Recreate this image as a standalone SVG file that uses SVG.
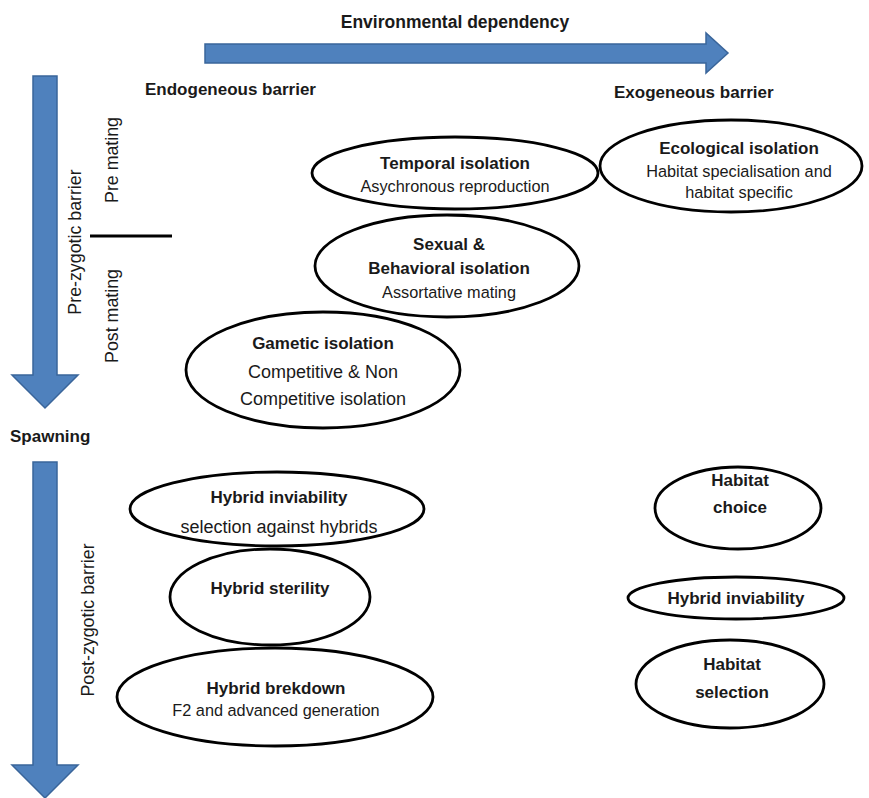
<svg xmlns="http://www.w3.org/2000/svg" width="869" height="798" viewBox="0 0 869 798">
<style>
.arrow{fill:#4f81bd;stroke:#3a659a;stroke-width:1.5}
.node ellipse{fill:#fff;stroke:#000;stroke-width:2.8}
text{font-family:"Liberation Sans",Arial,sans-serif;fill:#1a1a1a}
.b{font-weight:bold;font-size:17px}
.r{font-size:16.3px}
.r2{font-size:18px}
.v{font-size:17.8px}
.t{text-anchor:middle}
</style>
<rect width="869" height="798" fill="#fff"/>
<g id="connectors">
<path class="arrow" d="M205,44 H706 V33 L728,53 L706,73 V63 H205 Z"/>
<path class="arrow" d="M33,76 H57 V375 H78 L45,408 L12,375 H33 Z"/>
<path class="arrow" d="M33,462 H57 V765 H78 L45,798 L12,765 H33 Z"/>
<line x1="90" y1="236" x2="172" y2="236" stroke="#000" stroke-width="3"/>
</g>
<g id="labels">
<text class="b t" x="455" y="28" style="font-size:17.5px">Environmental dependency</text>
<text class="b" x="145" y="95">Endogeneous barrier</text>
<text class="b" x="614" y="98">Exogeneous barrier</text>
<text class="b" x="10" y="442">Spawning</text>
<text class="v t" transform="translate(81,242) rotate(-90)">Pre-zygotic barrier</text>
<text class="v t" transform="translate(118,160) rotate(-90)">Pre mating</text>
<text class="v t" transform="translate(118,316) rotate(-90)">Post mating</text>
<text class="v t" transform="translate(94,620) rotate(-90)">Post-zygotic barrier</text>
</g>
<g id="temporal" class="node">
<ellipse cx="455" cy="173" rx="143" ry="36"/>
<text class="b t" x="455" y="169">Temporal isolation</text>
<text class="r t" x="455" y="192">Asychronous reproduction</text>
</g>
<g id="ecological" class="node">
<ellipse cx="731" cy="166" rx="131" ry="46"/>
<text class="b t" x="739" y="154">Ecological isolation</text>
<text class="r t" x="739" y="177">Habitat specialisation and</text>
<text class="r t" x="739" y="198">habitat specific</text>
</g>
<g id="sexual" class="node">
<ellipse cx="447" cy="266" rx="132" ry="51"/>
<text class="b t" x="449" y="250">Sexual &amp;</text>
<text class="b t" x="449" y="274">Behavioral isolation</text>
<text class="r t" x="449" y="298">Assortative mating</text>
</g>
<g id="gametic" class="node">
<ellipse cx="323" cy="370" rx="137" ry="58"/>
<text class="b t" x="323" y="349">Gametic isolation</text>
<text class="r2 t" x="323" y="378">Competitive &amp; Non</text>
<text class="r2 t" x="323" y="405">Competitive isolation</text>
</g>
<g id="hybrid-inviability" class="node">
<ellipse cx="277" cy="509" rx="147" ry="37"/>
<text class="b t" x="279" y="503">Hybrid inviability</text>
<text class="r2 t" x="279" y="533">selection against hybrids</text>
</g>
<g id="hybrid-sterility" class="node">
<ellipse cx="270" cy="597" rx="100" ry="48"/>
<text class="b t" x="270" y="594">Hybrid sterility</text>
</g>
<g id="hybrid-breakdown" class="node">
<ellipse cx="275" cy="697" rx="158" ry="49"/>
<text class="b t" x="276" y="694">Hybrid brekdown</text>
<text class="r t" x="276" y="716">F2 and advanced generation</text>
</g>
<g id="habitat-choice" class="node">
<ellipse cx="738" cy="508" rx="83" ry="41"/>
<text class="b t" x="740" y="486">Habitat</text>
<text class="b t" x="740" y="513">choice</text>
</g>
<g id="hybrid-inviability-2" class="node">
<ellipse cx="736" cy="598" rx="108" ry="21"/>
<text class="b t" x="736" y="604">Hybrid inviability</text>
</g>
<g id="habitat-selection" class="node">
<ellipse cx="730" cy="684" rx="94" ry="44"/>
<text class="b t" x="732" y="670">Habitat</text>
<text class="b t" x="732" y="698">selection</text>
</g>
</svg>
